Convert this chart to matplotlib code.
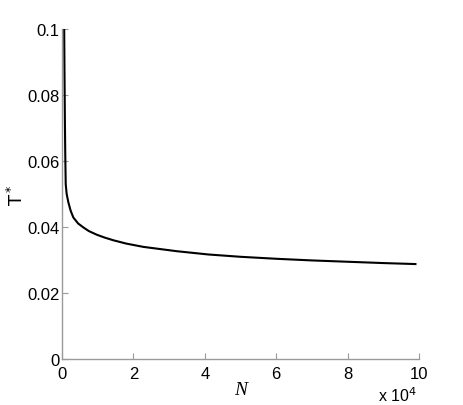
import numpy as np
import matplotlib.pyplot as plt
from matplotlib.ticker import FuncFormatter

# values
n_vals = [600, 700, 800, 900, 1030, 1300, 1770, 2400, 3170, 4500, 5970, 7500,
          9700, 12000, 14400, 18000, 22800, 32100, 41000, 50000, 60000, 70000,
          80000, 90000, 99000]
t_star = [0.100, 0.085, 0.072, 0.062, 0.0530, 0.0500, 0.0475, 0.0450, 0.0429,
          0.0411, 0.0399, 0.0388, 0.0377, 0.0368, 0.0360, 0.0350, 0.0340,
          0.0327, 0.0317, 0.0310, 0.0304, 0.0299, 0.0295, 0.0291, 0.0288]

x_ticks = [0, 20000, 40000, 60000, 80000, 100000]
y_ticks = [0, 0.02, 0.04, 0.06, 0.08, 0.1]
y_labels = ['0', '0.02', '0.04', '0.06', '0.08', '0.1']

plt.rcParams['font.family'] = ['Liberation Sans', 'DejaVu Sans']

fig = plt.figure(figsize=(4.63, 4.06), dpi=100)
ax = fig.add_axes([0.134, 0.113, 0.771, 0.813])

ax.plot(n_vals, t_star, color='black', linewidth=1.5)

ax.set_xlim(0, 100000)
ax.set_ylim(0, 0.1)
ax.set_xticks(x_ticks)
ax.xaxis.set_major_formatter(FuncFormatter(lambda v, p: '%d' % round(v / 1e4)))
ax.set_yticks(y_ticks)
ax.set_yticklabels(y_labels)

for side in ['top', 'right']:
    ax.spines[side].set_visible(False)
for side in ['left', 'bottom']:
    ax.spines[side].set_color('#9a9a9a')
    ax.spines[side].set_linewidth(1.0)

ax.tick_params(direction='in', length=4, color='#9a9a9a', labelsize=12)
ax.tick_params(axis='x', pad=5)
ax.tick_params(axis='y', pad=2)

ax.set_xlabel('N', fontsize=14, family='Liberation Serif', style='italic', labelpad=0)
ax.set_ylabel(r'$\mathrm{T}^*$', fontsize=13, labelpad=0)
fig.text(0.901, 0.010, r'x 10$^4$', fontsize=11.5, ha='right', va='baseline')

fig.savefig('out.png', dpi=100)
